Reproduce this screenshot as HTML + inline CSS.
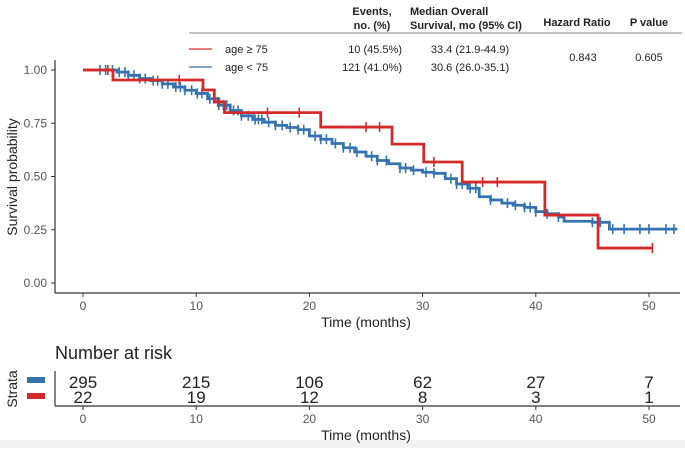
<!DOCTYPE html>
<html><head><meta charset="utf-8"><style>
body{margin:0;background:#fff;width:685px;height:448px;overflow:hidden;font-family:"Liberation Sans",sans-serif}
svg text{font-family:"Liberation Sans",sans-serif}
</style></head><body>
<svg id="c" width="685" height="448">
<rect x="0" y="440" width="685" height="8" fill="#f2f2f2"/>
<g>
<text x="372" y="15" font-size="11" font-weight="bold" text-anchor="middle" fill="#222">Events,</text>
<text x="372" y="29" font-size="11" font-weight="bold" text-anchor="middle" fill="#222">no. (%)</text>
<text x="410" y="15" font-size="11" font-weight="bold" fill="#222">Median Overall</text>
<text x="410" y="29" font-size="11" font-weight="bold" fill="#222">Survival, mo (95% CI)</text>
<text x="577" y="26" font-size="11" font-weight="bold" text-anchor="middle" fill="#222">Hazard Ratio</text>
<text x="649" y="26" font-size="11" font-weight="bold" text-anchor="middle" fill="#222">P value</text>
<line x1="189" y1="33" x2="682" y2="33" stroke="#888" stroke-width="1"/>
<line x1="189" y1="49" x2="212" y2="49" stroke="#d42a2a" stroke-width="1.2"/>
<text x="225" y="53" font-size="11" fill="#222">age ≥ 75</text>
<line x1="189" y1="67" x2="212" y2="67" stroke="#3573b0" stroke-width="1.2"/>
<text x="225" y="71" font-size="11" fill="#222">age &lt; 75</text>
<text x="402" y="53" font-size="11" text-anchor="end" fill="#222">10 (45.5%)</text>
<text x="402" y="71" font-size="11" text-anchor="end" fill="#222">121 (41.0%)</text>
<text x="470" y="53" font-size="11" text-anchor="middle" fill="#222">33.4 (21.9-44.9)</text>
<text x="470" y="71" font-size="11" text-anchor="middle" fill="#222">30.6 (26.0-35.1)</text>
<text x="583" y="61" font-size="11" text-anchor="middle" fill="#222">0.843</text>
<text x="649" y="61" font-size="11" text-anchor="middle" fill="#222">0.605</text>
</g>
<g id="plot"></g>
</svg>
<script>
const xTicks=[0,10,20,30,40,50];
const yTicks=[0,0.25,0.5,0.75,1];
const yLabels=["0.00","0.25","0.50","0.75","1.00"];
const redTimes=[0,2.65,10.6,11.6,12.5,21,27.3,30.1,33.5,40.8,45.5,50.3];
const redSurv=[1,0.953,0.906,0.85,0.80,0.732,0.652,0.568,0.474,0.319,0.164,0.164];
const redCens=[2.2,8.5,11.9,16.3,19.1,25,26.2,31,35.3,36.6,50.3];
const blueTimes=[0,3,4,5,6,7,8,9,10,11,12,13,14,15,16,17,18,19,20,21,22,23,24,25,26,27,28,29,30,31,32,33,34,35,36,37,38,39,40,41,42,42.5,45,46.5,52.5];
const blueSurv=[1,0.99,0.975,0.96,0.95,0.935,0.92,0.905,0.89,0.865,0.835,0.81,0.785,0.768,0.755,0.74,0.73,0.72,0.69,0.675,0.655,0.635,0.615,0.595,0.575,0.56,0.54,0.53,0.52,0.515,0.49,0.465,0.445,0.405,0.39,0.375,0.365,0.355,0.335,0.325,0.31,0.29,0.285,0.253,0.253];
const blueCens=[1.5,2,2.6,3.2,3.7,4,4.5,5,5.5,6.2,6.6,7,7.5,8.2,8.6,9,9.6,10.1,10.5,11.2,11.6,12,12.4,12.7,13.3,13.7,14,14.6,15.2,15.5,15.8,16.4,17,17.6,18.3,19,19.5,20.5,21,21.5,22.3,23,23.6,24.2,25.5,26,26.8,28,28.5,29.2,30.3,31,32.5,33,33.5,34.2,34.7,36,37.5,38.2,39,39.5,40,41,42,45,45.7,46.8,47.8,49.2,50,51.5,52.2];
const riskBlue=[295,215,106,62,27,7];
const riskRed=[22,19,12,8,3,1];
const RED="#d42a2a",BLUE="#3573b0",NS="http://www.w3.org/2000/svg";
const X=t=>83+t*11.32;
const Y=s=>283-s*213;
const g=document.getElementById('plot');
function mk(tag,attrs,parent){const e=document.createElementNS(NS,tag);for(const k in attrs)e.setAttribute(k,attrs[k]);(parent||g).appendChild(e);return e;}
function txt(x,y,s,size,anchor,fill,parent){const t=mk('text',{x:x,y:y,'font-size':size,'text-anchor':anchor,fill:fill},parent);t.textContent=s;return t;}
let e=mk('line',{x1:55,y1:60,x2:55,y2:293,stroke:'#333','stroke-width':1.2});


e=mk('line',{x1:55,y1:293,x2:680,y2:293,stroke:'#333','stroke-width':1.2});


yTicks.forEach((v,i)=>{mk('line',{x1:51,y1:Y(v),x2:55,y2:Y(v),stroke:'#333'});
const t=txt(47,Y(v)+4,yLabels[i],12,'end','#555');

});
xTicks.forEach(v=>{mk('line',{x1:X(v),y1:293,x2:X(v),y2:297,stroke:'#333'});
const t=txt(X(v),310,String(v),12,'middle','#555');

});
e=txt(366,327,'Time (months)',14,'middle','#222');


e=txt(0,0,'Survival probability',14,'middle','#222');
e.setAttribute('transform','translate(17,177) rotate(-90)');


function curve(times,surv,cens,col,name){
 let d='M'+X(times[0])+','+Y(surv[0]);
 for(let i=1;i<times.length;i++){d+='H'+X(times[i])+'V'+Y(surv[i]);}
 const p=mk('path',{d:d,fill:'none',stroke:col,'stroke-width':2.8});
 
 
 cens.forEach(c=>{let k=0;for(let i=0;i<times.length;i++)if(times[i]<=c)k=i;
  const m=mk('line',{x1:X(c),y1:Y(surv[k])-5,x2:X(c),y2:Y(surv[k])+5,stroke:col,'stroke-width':1.6});
  
  });
}
curve(blueTimes,blueSurv,blueCens,BLUE,'blue');
curve(redTimes,redSurv,redCens,RED,'red');
e=txt(55,359,'Number at risk',18,'start','#222');


mk('line',{x1:55,y1:371,x2:55,y2:406,stroke:'#333','stroke-width':1.2});
mk('line',{x1:55,y1:406,x2:680,y2:406,stroke:'#333','stroke-width':1.2});
xTicks.forEach((v,i)=>{mk('line',{x1:X(v),y1:406,x2:X(v),y2:410,stroke:'#333'});
let t=txt(X(v),388,String(riskBlue[i]),17,'middle','#222');


t=txt(X(v),403,String(riskRed[i]),17,'middle','#222');


txt(X(v),423,String(v),12,'middle','#555');});
e=mk('rect',{x:27,y:377,width:18,height:6,fill:BLUE});


e=mk('rect',{x:27,y:393,width:18,height:6,fill:RED});


e=txt(0,0,'Strata',14,'middle','#222');
e.setAttribute('transform','translate(17,389) rotate(-90)');


e=txt(366,440,'Time (months)',14,'middle','#222');


</script>
</body></html>
